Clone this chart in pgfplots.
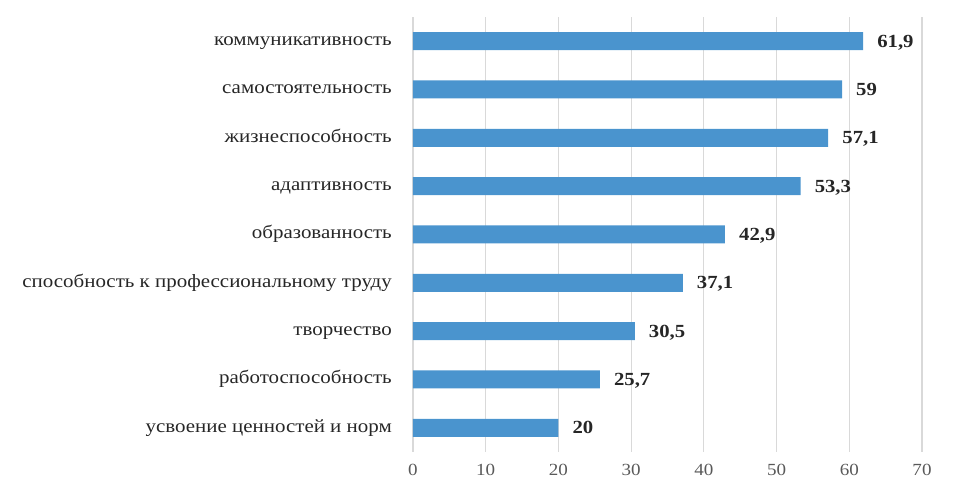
\documentclass[border=0pt]{standalone}
\usepackage{fontspec}
\setmainfont{Liberation Serif}[FakeStretch=1.12]
\usepackage{pgfplots}
\pgfplotsset{compat=1.18}
\definecolor{barc}{HTML}{4A94CE}
\definecolor{gridc}{HTML}{D9D9D9}
\definecolor{labc}{HTML}{262626}
\definecolor{tickc}{HTML}{595959}
\begin{document}
\begin{tikzpicture}
\begin{axis}[name=ax, scale only axis, width=509pt, height=435pt,
  xbar, xmin=0, xmax=70, ymin=-0.5, ymax=8.5,
  bar width=18pt,
  xtick={0,10,...,70},
  ytick={0,...,8},
  yticklabels={усвоение ценностей и норм, работоспособность, творчество, способность к профессиональному труду, образованность, адаптивность, жизнеспособность, самостоятельность, коммуникативность},
  axis line style={draw=none},
  tick style={draw=none},
  major tick length=0pt,
  xmajorgrids,
  grid style={color=gridc, line width=1.2pt},
  /pgf/number format/assume math mode=true,
  x tick label style={font=\fontsize{17}{20}\selectfont, text=tickc, inner sep=0pt, yshift=-12pt},
  y tick label style={font=\fontsize{18.7}{22}\selectfont, text=labc, anchor=base east, inner sep=0pt, xshift=-21pt, yshift=-4.5pt},
  point meta=explicit symbolic,
  nodes near coords={\pgfplotspointmeta},
  nodes near coords style={font=\bfseries\fontsize{18.5}{22}\selectfont, text=labc, anchor=base west, inner sep=0pt, xshift=14pt, yshift=-6pt},
]
\addplot[fill=barc, draw=none] coordinates {
  (20,0) [20]
  (25.7,1) [25,7]
  (30.5,2) [30,5]
  (37.1,3) [37,1]
  (42.9,4) [42,9]
  (53.3,5) [53,3]
  (57.1,6) [57,1]
  (59,7) [59]
  (61.9,8) [61,9]
};
\end{axis}
\pgfresetboundingbox
\path ([xshift=-413pt,yshift=-51pt]ax.south west) rectangle ([xshift=57pt,yshift=17pt]ax.north east);
\end{tikzpicture}
\end{document}
